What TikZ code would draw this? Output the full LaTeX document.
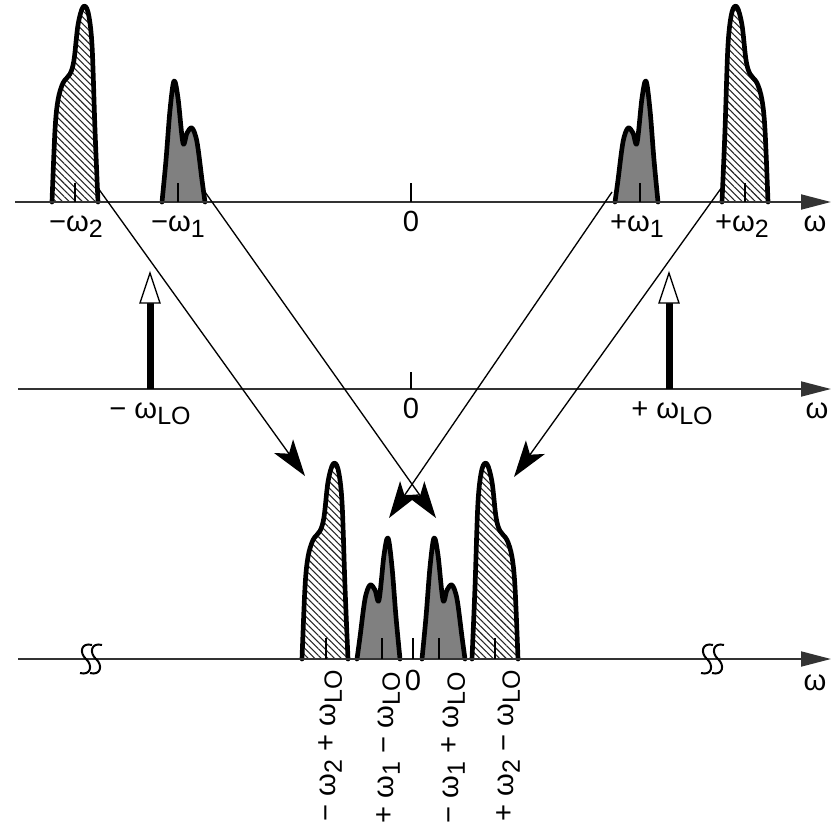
\documentclass[tikz,border=0pt]{standalone}
\usepackage{fontspec}
\setmainfont{Liberation Sans}
\usetikzlibrary{arrows.meta,patterns.meta}
\newcommand{\lsub}[1]{\raisebox{-0.45ex}{\fontsize{15}{15}\selectfont #1}}
\tikzset{
  axis/.style={line width=1.1pt, draw=black!80, -{Triangle[length=18pt,width=9pt]}},
  outline/.style={line width=2.8pt, line join=round, line cap=round},
  hatchfill/.style={pattern={Lines[angle=-45,distance=2.8pt,line width=0.65pt]}, pattern color=black!85},
  greyfill/.style={fill=black!50},
  tickmark/.style={line width=0.7pt},
  conn/.style={line width=0.8pt, -{Stealth[length=22pt,width=14pt,inset=5.5pt]}},
  breakmark/.style={line width=1.2pt},
  lbl/.style={font=\fontsize{17.5}{19}\selectfont, inner sep=0pt},
  hpk/.pic={
    \fill[hatchfill] plot[smooth,tension=0.55] coordinates {(52,202) (55,130) (58,100) (63,83) (70,74) (74,60) (78,25) (83,7) (88,12) (92,45) (95,130) (98,202)} -- cycle;
    \draw[outline] plot[smooth,tension=0.55] coordinates {(52,202) (55,130) (58,100) (63,83) (70,74) (74,60) (78,25) (83,7) (88,12) (92,45) (95,130) (98,202)};
  },
  gpk/.pic={
    \fill[greyfill] plot[smooth,tension=0.55] coordinates {(162,202) (166,160) (170,110) (174,81) (178,98) (183,143) (187,133) (192,128) (197,142) (202,180) (205,202)} -- cycle;
    \draw[outline] plot[smooth,tension=0.55] coordinates {(162,202) (166,160) (170,110) (174,81) (178,98) (183,143) (187,133) (192,128) (197,142) (202,180) (205,202)};
  },
}
\begin{document}
\begin{tikzpicture}[x=0.6pt,y=-0.6pt]
\useasboundingbox (0,0) rectangle (837,832);

% ---------- top spectrum ----------
\pic at (0,0) {hpk};
\pic at (0,0) {gpk};
\pic[xscale=-1] at (820,0) {gpk};
\pic[xscale=-1] at (820,0) {hpk};
\draw[axis] (15,202) -- (831,202);
\foreach \x in {75,178,411,640,745}
  \draw[tickmark] (\x,183) -- (\x,202);
\node[lbl,anchor=base] (lm2) at (76,231) {−ω\lsub{2}};
\node[lbl,anchor=base] (lm1) at (178,231) {−ω\lsub{1}};
\node[lbl,anchor=base] (l0a) at (411,231) {0};
\node[lbl,anchor=base] (lp1) at (637,231) {+ω\lsub{1}};
\node[lbl,anchor=base] (lp2) at (742,231) {+ω\lsub{2}};
\node[lbl,anchor=base] (wa) at (815,231) {ω};

% ---------- LO spectrum ----------
\draw[axis] (18,389) -- (831,389);
\draw[tickmark] (411,372) -- (411,389);
\foreach \x in {150,669}{
  \draw[line width=4.2pt] (\x,389) -- (\x,302);
  \draw[line width=0.8pt,fill=white,line join=miter] (\x-10,303) -- (\x+10,303) -- (\x,273) -- cycle;
}
\node[lbl,anchor=base] (llo1) at (150,418) {− ω\lsub{LO}};
\node[lbl,anchor=base] (l0b) at (411,418) {0};
\node[lbl,anchor=base] (llo2) at (672,418) {+ ω\lsub{LO}};
\node[lbl,anchor=base] (wb) at (817,418) {ω};

% ---------- output spectrum ----------
\pic at (250,457) {hpk};
\pic at (260,457) {gpk};
\pic[xscale=-1] at (562,457) {gpk};
\pic[xscale=-1] at (570,457) {hpk};
\draw[axis] (18,659) -- (831,659);
\foreach \x in {326,382,413,439,495}
  \draw[tickmark] (\x,638) -- (\x,659);
\foreach \cx in {86,96,707,718}
  \draw[breakmark] (\cx+6,645) .. controls (\cx-5,642) and (\cx-7,653) .. (\cx,659)
                   .. controls (\cx+7,665) and (\cx+5,676) .. (\cx-6,673);
\node[lbl,anchor=base east,rotate=90] (r1) at (335,670) {− ω\lsub{2} + ω\lsub{LO}};
\node[lbl,anchor=base east,rotate=90] (r2) at (393,672) {+ ω\lsub{1} − ω\lsub{LO}};
\node[lbl,anchor=base] (l0c) at (413,690) {0};
\node[lbl,anchor=base east,rotate=90] (r3) at (458,672) {− ω\lsub{1} + ω\lsub{LO}};
\node[lbl,anchor=base east,rotate=90] (r4) at (513,670) {+ ω\lsub{2} − ω\lsub{LO}};
\node[lbl,anchor=base] (wc) at (815,690) {ω};

% ---------- mixing connectors ----------
\coordinate (s1) at (98,188);  \coordinate (t1) at (305,476);
\coordinate (s2) at (205,192); \coordinate (t2) at (436,518);
\coordinate (s3) at (612,192); \coordinate (t3) at (389,518);
\coordinate (s4) at (722,187); \coordinate (t4) at (514,477);
\draw[conn] (s1) -- (t1);
\draw[conn] (s2) -- (t2);
\draw[conn] (s3) -- (t3);
\draw[conn] (s4) -- (t4);
\end{tikzpicture}
\end{document}
